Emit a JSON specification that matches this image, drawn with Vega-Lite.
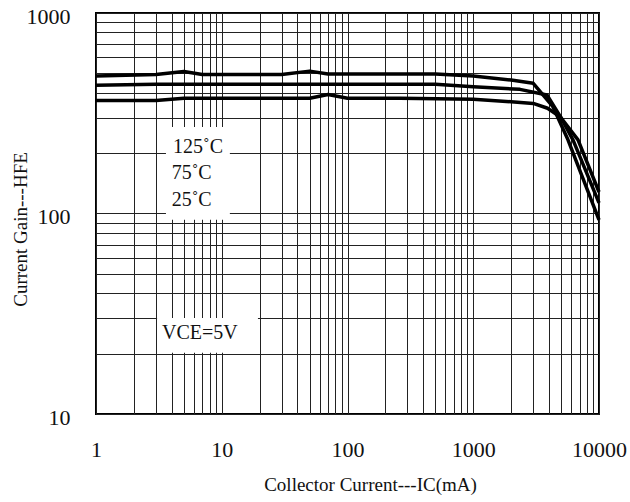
{
  "$schema": "https://vega.github.io/schema/vega-lite/v6.json",
  "width": 503,
  "height": 401,
  "autosize": {"type": "none"},
  "padding": {"left": 96, "top": 13, "right": 31, "bottom": 88},
  "background": "white",
  "config": {
    "font": "Liberation Serif",
    "view": {"stroke": "black", "strokeWidth": 2},
    "axis": {
      "grid": true,
      "gridColor": "#222222",
      "gridWidth": 1,
      "gridOpacity": 1,
      "ticks": false,
      "domain": false,
      "labelFont": "Liberation Serif",
      "labelFontSize": 22,
      "labelColor": "#111111",
      "titleFont": "Liberation Serif",
      "titleFontSize": 19,
      "titleFontWeight": "normal",
      "titleColor": "#111111",
      "labelOverlap": false,
      "labelBound": false,
      "labelFlush": false
    }
  },
  "datasets": {
    "curves": [
      {"ic": 1, "hfe": 485, "temp": "125"},
      {"ic": 3, "hfe": 494, "temp": "125"},
      {"ic": 5, "hfe": 511, "temp": "125"},
      {"ic": 7, "hfe": 494, "temp": "125"},
      {"ic": 30, "hfe": 494, "temp": "125"},
      {"ic": 50, "hfe": 513, "temp": "125"},
      {"ic": 70, "hfe": 496, "temp": "125"},
      {"ic": 500, "hfe": 496, "temp": "125"},
      {"ic": 1000, "hfe": 485, "temp": "125"},
      {"ic": 2000, "hfe": 463, "temp": "125"},
      {"ic": 3000, "hfe": 446, "temp": "125"},
      {"ic": 4300, "hfe": 341, "temp": "125"},
      {"ic": 5667, "hfe": 233, "temp": "125"},
      {"ic": 10000, "hfe": 93, "temp": "125"},
      {"ic": 1, "hfe": 436, "temp": "75"},
      {"ic": 3, "hfe": 441, "temp": "75"},
      {"ic": 500, "hfe": 441, "temp": "75"},
      {"ic": 1000, "hfe": 429, "temp": "75"},
      {"ic": 2352, "hfe": 416, "temp": "75"},
      {"ic": 3857, "hfe": 390, "temp": "75"},
      {"ic": 5000, "hfe": 300, "temp": "75"},
      {"ic": 6210, "hfe": 233, "temp": "75"},
      {"ic": 10000, "hfe": 113, "temp": "75"},
      {"ic": 1, "hfe": 366, "temp": "25"},
      {"ic": 3, "hfe": 366, "temp": "25"},
      {"ic": 5, "hfe": 376, "temp": "25"},
      {"ic": 50, "hfe": 376, "temp": "25"},
      {"ic": 70, "hfe": 392, "temp": "25"},
      {"ic": 100, "hfe": 376, "temp": "25"},
      {"ic": 261, "hfe": 376, "temp": "25"},
      {"ic": 1000, "hfe": 371, "temp": "25"},
      {"ic": 2000, "hfe": 361, "temp": "25"},
      {"ic": 3000, "hfe": 354, "temp": "25"},
      {"ic": 3900, "hfe": 335, "temp": "25"},
      {"ic": 4900, "hfe": 304, "temp": "25"},
      {"ic": 6810, "hfe": 233, "temp": "25"},
      {"ic": 10000, "hfe": 128, "temp": "25"}
    ],
    "boxes": [
      {"x1": 3.6, "x2": 11.6, "y1": 93, "y2": 270},
      {"x1": 3.06, "x2": 19.4, "y1": 20.2, "y2": 30.1}
    ],
    "labels": [
      {"x": 4.1, "y": 215, "text": "125˚C"},
      {"x": 4.0, "y": 159, "text": "75˚C"},
      {"x": 4.0, "y": 117, "text": "25˚C"},
      {"x": 3.35, "y": 25.4, "text": "VCE=5V"}
    ]
  },
  "layer": [
    {
      "data": {"name": "boxes"},
      "mark": {"type": "rect", "fill": "white", "strokeWidth": 0},
      "encoding": {
        "x": {
          "field": "x1", "type": "quantitative",
          "scale": {"type": "log", "domain": [1, 10000], "nice": false},
          "axis": {
            "values": [1,2,3,4,5,6,7,8,9,10,20,30,40,50,60,70,80,90,100,200,300,400,500,600,700,800,900,1000,2000,3000,4000,5000,6000,7000,8000,9000,10000],
            "format": "d",
            "labelExpr": "indexof(['1','10','100','1000','10000'], datum.label) >= 0 ? datum.label : ''",
            "labelPadding": 25,
            "title": "Collector Current---IC(mA)",
            "titleX": 274,
            "titleY": 76,
            "titleBaseline": "alphabetic",
            "titleAnchor": "middle",
            "titleAlign": "center"
          }
        },
        "x2": {"field": "x2"},
        "y": {
          "field": "y1", "type": "quantitative",
          "scale": {"type": "log", "domain": [10, 1000], "nice": false},
          "axis": {
            "values": [10,20,30,40,50,60,70,80,90,100,200,300,400,500,600,700,800,900,1000],
            "format": "d",
            "labelExpr": "indexof(['10','100','1000'], datum.label) >= 0 ? datum.label : ''",
            "labelPadding": 26,
            "labelOffset": 3,
            "title": "Current Gain---HFE",
            "titleX": -70,
            "titleY": 216,
            "titleBaseline": "alphabetic",
            "titleAlign": "center",
            "titleAngle": -90
          }
        },
        "y2": {"field": "y2"}
      }
    },
    {
      "data": {"name": "curves"},
      "mark": {"type": "line", "color": "black", "strokeWidth": 3.5, "strokeJoin": "round"},
      "encoding": {
        "x": {"field": "ic", "type": "quantitative"},
        "y": {"field": "hfe", "type": "quantitative"},
        "detail": {"field": "temp"}
      }
    },
    {
      "data": {"name": "labels"},
      "mark": {"type": "text", "align": "left", "baseline": "middle", "fontSize": 20, "font": "Liberation Serif", "color": "#111111"},
      "encoding": {
        "x": {"field": "x", "type": "quantitative"},
        "y": {"field": "y", "type": "quantitative"},
        "text": {"field": "text"}
      }
    }
  ]
}
